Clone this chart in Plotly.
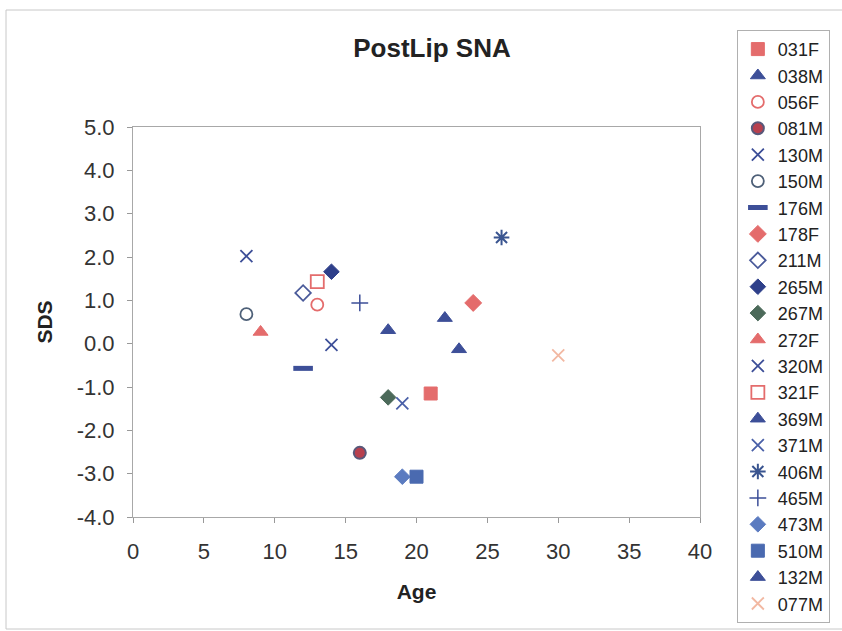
import plotly.graph_objects as go

names = ["031F", "038M", "056F", "081M", "130M", "150M", "176M", "178F", "211M", "265M",
         "267M", "272F", "320M", "321F", "369M", "371M", "406M", "465M", "473M", "510M",
         "132M", "077M"]
ages = [21, 18, 13, 16, 8, 8, 12, 24, 12, 14, 18, 9, 14, 13, 22, 19, 26, 16, 19, 20, 23, 30]
sds = [-1.15, 0.31, 0.90, -2.52, 2.02, 0.68, -0.57, 0.94, 1.17, 1.66, -1.24, 0.27, -0.03,
       1.43, 0.59, -1.38, 2.45, 0.94, -3.07, -3.07, -0.13, -0.27]

x_ticks = [0, 5, 10, 15, 20, 25, 30, 35, 40]
y_ticks = [5, 4, 3, 2, 1, 0, -1, -2, -3, -4]
y_ticktext = ["%.1f" % v for v in y_ticks]

SAL = "#E46C6C"
BLU = "#3D4F98"
styles = {
    "031F": ("square", 13, SAL, SAL, 1),
    "038M": ("triangle-up", 13, BLU, BLU, 1),
    "056F": ("circle-open", 12, SAL, SAL, 1.8),
    "081M": ("circle", 12, "#B8404E", "#58587A", 2),
    "130M": ("x-thin-open", 12, BLU, BLU, 1.8),
    "150M": ("circle-open", 12, "#4E6078", "#4E6078", 1.8),
    "176M": ("line-ew-open", 14, BLU, BLU, 5),
    "178F": ("diamond", 13, SAL, SAL, 1),
    "211M": ("diamond-open", 12, "#4A5A9A", "#4A5A9A", 1.8),
    "265M": ("diamond", 12, "#2E3F8A", "#2E3F8A", 1),
    "267M": ("diamond", 12, "#4C6A5A", "#4C6A5A", 1),
    "272F": ("triangle-up", 13, SAL, SAL, 1),
    "320M": ("x-thin-open", 12, BLU, BLU, 1.8),
    "321F": ("square-open", 13, SAL, SAL, 1.8),
    "369M": ("triangle-up", 13, BLU, BLU, 1),
    "371M": ("x-thin-open", 12, "#4A60A8", "#4A60A8", 1.8),
    "406M": ("asterisk-open", 13, "#3A5590", "#3A5590", 2),
    "465M": ("cross-thin-open", 12, BLU, BLU, 1.5),
    "473M": ("diamond", 12, "#5B7BC0", "#5B7BC0", 1),
    "510M": ("square", 13, "#4A6AB0", "#4A6AB0", 1),
    "132M": ("triangle-up", 13, BLU, BLU, 1),
    "077M": ("x-thin-open", 12, "#F2B8A2", "#F2B8A2", 1.8),
}

fig = go.Figure()
for n, a, s in zip(names, ages, sds):
    sym, size, fill, line, lw = styles[n]
    fig.add_trace(go.Scatter(
        x=[a], y=[s], mode="markers", name=n,
        marker=dict(symbol=sym, size=size, color=fill,
                    line=dict(color=line, width=lw)),
    ))

font_family = "Liberation Sans, Arial, sans-serif"
fig.update_layout(
    width=842, height=631,
    paper_bgcolor="white", plot_bgcolor="white",
    margin=dict(l=133, r=142, t=127, b=114),
    font=dict(family=font_family, size=22, color="#333333"),
    title=dict(text="<b>PostLip SNA</b>", x=(432 / 842), xanchor="center",
               y=1 - 48 / 631, yanchor="middle",
               font=dict(size=26, color="#222222")),
    showlegend=True,
    legend=dict(x=1.065, xanchor="left", y=1.249, yanchor="top",
                bordercolor="#b0b0b0", borderwidth=1, bgcolor="white",
                font=dict(size=18, color="#222222"),
                tracegroupgap=0, itemwidth=30, maxheight=620),
    xaxis=dict(range=[0, 40], tickvals=x_ticks, ticks="outside", ticklen=5,
               tickcolor="#999999", showgrid=False, zeroline=False,
               showline=True, linecolor="#a8a8a8", mirror=True,
               ticklabelstandoff=10,
               title=dict(text="<b>Age</b>", font=dict(size=21, color="#222222"),
                          standoff=20)),
    yaxis=dict(range=[-4, 5], tickvals=y_ticks, ticktext=y_ticktext, ticks="outside",
               ticklen=5, tickcolor="#999999", showgrid=False, zeroline=False,
               showline=True, linecolor="#a8a8a8", mirror=True,
               ticklabelstandoff=8,
               title=dict(text="<b>SDS</b>", font=dict(size=21, color="#222222"),
                          standoff=18)),
    shapes=[dict(type="rect", xref="paper", yref="paper",
                 x0=(6 - 133) / 567, x1=(845 - 133) / 567,
                 y0=(517 - 629) / 390, y1=(517 - 10) / 390,
                 line=dict(color="#c8c8c8", width=1), layer="below")],
)

fig.write_html("out.html", config={"displayModeBar": False},
               post_script="document.body.style.margin='0';")
